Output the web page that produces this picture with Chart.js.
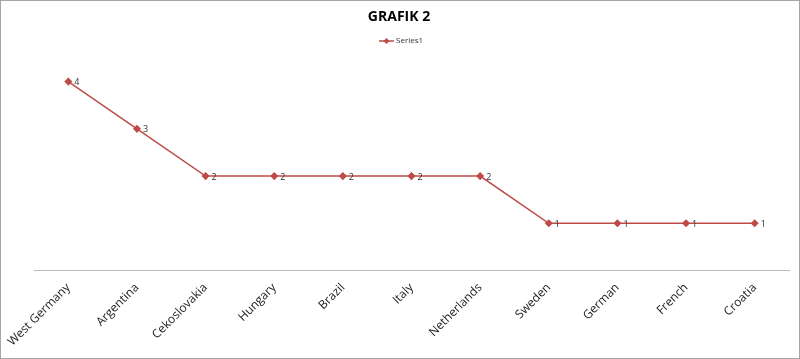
<!DOCTYPE html>
<html><head><meta charset="utf-8">
<script src="https://cdn.jsdelivr.net/npm/chart.js@4"></script>
<style>html,body{margin:0;padding:0;background:#fff}#wrap{width:800px;height:359px}</style>
</head><body><div id="wrap"><canvas id="c" width="800" height="359"></canvas></div>
<script>
const categories = ["West Germany","Argentina","Cekoslovakia","Hungary","Brazil","Italy","Netherlands","Sweden","German","French","Croatia"];
const series1 = [4,3,2,2,2,2,2,1,1,1,1];
const seriesName = "Series1";
const chartTitle = "GRAFIK 2";
const lineColor = "#be4b48";

const decor = {
  id: 'decor',
  afterDraw(chart) {
    const ctx = chart.ctx;
    ctx.save();
    // title
    ctx.fillStyle = '#000';
    ctx.font = 'bold 14px "Open Sans", "Liberation Sans", sans-serif';
    ctx.textAlign = 'center';
    ctx.textBaseline = 'middle';
    ctx.fillText(chartTitle, 399, 17);
    // data labels
    const meta = chart.getDatasetMeta(0);
    ctx.font = '9px "Open Sans", "Liberation Sans", sans-serif';
    ctx.fillStyle = '#333';
    ctx.textAlign = 'left';
    meta.data.forEach((p, i) => {
      ctx.fillText(String(series1[i]), p.x + 6, p.y + 1);
    });
    // legend
    const ly = 41, lx = 379;
    ctx.strokeStyle = lineColor; ctx.lineWidth = 1.5;
    ctx.beginPath(); ctx.moveTo(lx, ly); ctx.lineTo(lx + 15, ly); ctx.stroke();
    ctx.fillStyle = lineColor;
    ctx.beginPath(); ctx.moveTo(lx+7.5, ly-3); ctx.lineTo(lx+10.5, ly); ctx.lineTo(lx+7.5, ly+3); ctx.lineTo(lx+4.5, ly); ctx.closePath(); ctx.fill();
    ctx.fillStyle = '#333';
    ctx.font = '8px "Open Sans", "Liberation Sans", sans-serif';
    ctx.fillText(seriesName, lx + 17, ly);
    // frame
    ctx.strokeStyle = '#a6a6a6'; ctx.lineWidth = 1;
    ctx.strokeRect(0.5, 0.5, chart.width - 1, chart.height - 1);
    ctx.restore();
  }
};

new Chart(document.getElementById('c'), {
  type: 'line',
  data: {
    labels: categories,
    datasets: [{
      label: seriesName,
      data: series1,
      borderColor: lineColor,
      backgroundColor: lineColor,
      borderWidth: 1.5,
      pointStyle: 'rectRot',
      pointRadius: 3,
      pointHoverRadius: 3,
      tension: 0,
      fill: false
    }]
  },
  options: {
    responsive: false,
    animation: false,
    events: [],
    layout: { padding: { left: 34, right: 11, top: 58, bottom: 8 } },
    plugins: {
      legend: { display: false },
      tooltip: { enabled: false },
      title: { display: false }
    },
    scales: {
      x: {
        offset: true,
        grid: { display: false },
        border: { display: true, color: '#bfbfbf', width: 1 },
        ticks: {
          autoSkip: false,
          minRotation: 45, maxRotation: 45,
          color: '#222',
          padding: 2,
          font: { family: '"Open Sans", "Liberation Sans", sans-serif', size: 12 }
        }
      },
      y: {
        display: false,
        min: 0, max: 4.5
      }
    }
  },
  plugins: [decor]
});
</script>
</body></html>
